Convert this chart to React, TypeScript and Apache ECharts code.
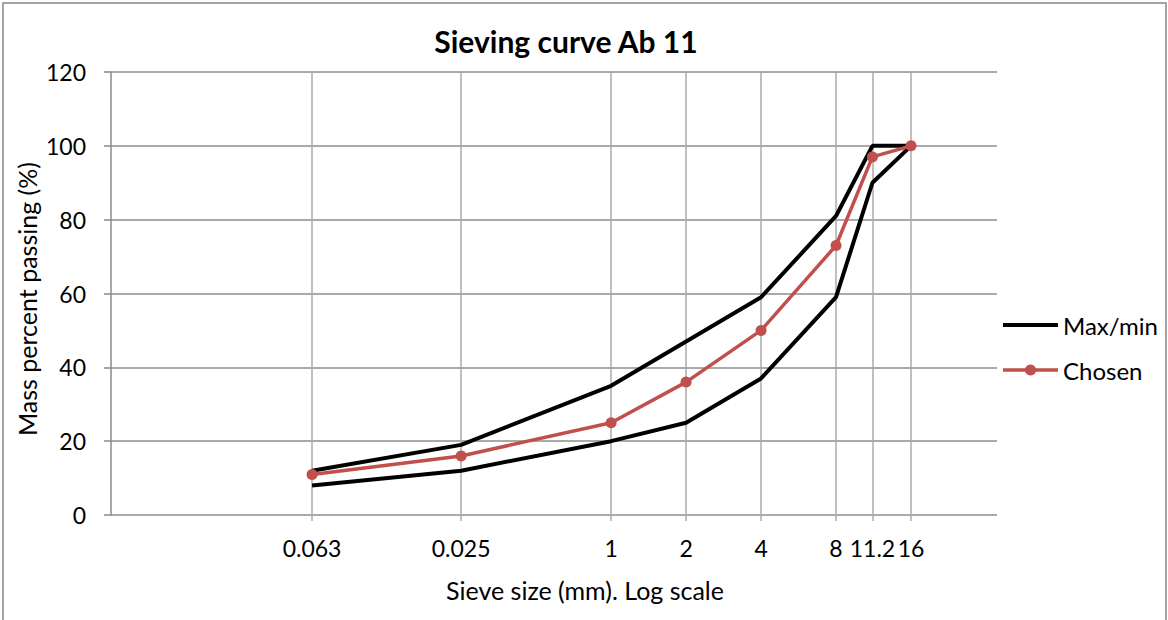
import React, { useEffect, useRef } from "react";
import * as echarts from "echarts";

const sieveSizes = [0.063, 0.25, 1, 2, 4, 8, 11.2, 16];
const tickLabels = ["0.063", "0.025", "1", "2", "4", "8", "11.2", "16"];
const maxPassing = [12, 19, 35, 47, 59, 81, 100, 100];
const minPassing = [8, 12, 20, 25, 37, 59, 90, 100];
const chosenPassing = [11, 16, 25, 36, 50, 73, 97, 100];
const yTicks = [0, 20, 40, 60, 80, 100, 120];

const FONT = "Lato, 'Open Sans', sans-serif";

export default function App() {
  const ref = useRef<HTMLDivElement>(null);
  useEffect(() => {
    if (!ref.current) return;
    const chart = echarts.init(ref.current, undefined, { renderer: "svg" });
    const xs = sieveSizes.map((s) => Math.log2(s));
    const labelFor = (v: number) => {
      const i = xs.findIndex((x) => Math.abs(x - v) < 1e-6);
      return i >= 0 ? tickLabels[i] : "";
    };
    const envelope: [number, number][] = [];
    sieveSizes.forEach((s, i) => envelope.push([Math.log2(s), maxPassing[i]]));
    for (let i = sieveSizes.length - 1; i >= 0; i--) envelope.push([Math.log2(sieveSizes[i]), minPassing[i]]);
    const chosen = sieveSizes.map((s, i) => [Math.log2(s), chosenPassing[i]]);
    const xMin = -6.67;
    const xMax = 5.147;
    chart.setOption({
      animation: false,
      backgroundColor: "#ffffff",
      textStyle: { fontFamily: FONT },
      title: {
        text: "Sieving curve Ab 11",
        left: 566,
        top: 26,
        textAlign: "center",
        padding: 0,
        textStyle: { fontFamily: FONT, fontSize: 30, fontWeight: "bold", color: "#000" },
      },
      graphic: [
        {
          type: "rect",
          shape: { x: 3, y: 3, width: 1163, height: 640 },
          style: { fill: "none", stroke: "#888888", lineWidth: 1.5 },
          silent: true,
        },
        {
          type: "text",
          x: 585,
          y: 590,
          style: {
            text: "Sieve size (mm). Log scale",
            fontFamily: FONT,
            fontSize: 25,
            fill: "#000",
            textAlign: "center",
            textVerticalAlign: "middle",
          },
        },
        {
          type: "text",
          x: 27,
          y: 299,
          rotation: Math.PI / 2,
          style: {
            text: "Mass percent passing (%)",
            fontFamily: FONT,
            fontSize: 25,
            fill: "#000",
            textAlign: "center",
            textVerticalAlign: "middle",
          },
        },
      ],
      legend: {
        orient: "vertical",
        left: 1001,
        top: 313,
        padding: 0,
        itemWidth: 55,
        itemHeight: 14,
        itemGap: 21,
        data: [
          { name: "Max/min", itemStyle: { opacity: 0 }, lineStyle: { width: 4 } },
          { name: "Chosen", lineStyle: { width: 3.5 } },
        ],
        textStyle: { fontFamily: FONT, fontSize: 24, color: "#000" },
      },
      grid: { left: 111, right: 171, top: 72, bottom: 105 },
      xAxis: [
        {
          type: "value",
          min: xMin,
          max: xMax,
          axisLine: { show: false },
          splitLine: { show: false },
          axisTick: {
            show: true,
            customValues: xs,
            inside: false,
            length: 6,
            lineStyle: { color: "#ababab", width: 1.5 },
          },
          axisLabel: {
            customValues: xs,
            formatter: (v: number) => labelFor(v),
            margin: 21,
            fontFamily: FONT,
            fontSize: 23,
            color: "#000",
          },
        },
        {
          type: "value",
          position: "top",
          min: xMin,
          max: xMax,
          axisLine: { show: false },
          splitLine: { show: false },
          axisLabel: { show: false, customValues: xs },
          axisTick: {
            show: true,
            customValues: xs,
            inside: true,
            length: 443,
            lineStyle: { color: "#ababab", width: 1.5 },
          },
        },
      ],
      yAxis: {
        type: "value",
        min: yTicks[0],
        max: yTicks[yTicks.length - 1],
        interval: 20,
        axisLine: { show: true, onZero: false, lineStyle: { color: "#8a8a8a", width: 1.5 } },
        axisTick: { show: true, length: 7, lineStyle: { color: "#8a8a8a", width: 1.5 } },
        splitLine: { show: true, lineStyle: { color: "#8e8e8e", width: 1.5 } },
        axisLabel: { margin: 25, fontFamily: FONT, fontSize: 23, color: "#000" },
      },
      series: [
        {
          name: "Max/min",
          type: "line",
          data: envelope,
          symbol: "none",
          lineStyle: { color: "#000", width: 4 },
          itemStyle: { color: "#000" },
          z: 3,
        },
        {
          name: "Chosen",
          type: "line",
          data: chosen,
          symbol: "circle",
          symbolSize: 11,
          lineStyle: { color: "#C0504D", width: 3.5 },
          itemStyle: { color: "#C0504D" },
          z: 4,
        },
      ],
    });
    return () => chart.dispose();
  }, []);
  return (
    <div
      ref={ref}
      style={{ position: "fixed", left: 0, top: 0, width: 1168, height: 620 }}
    />
  );
}
